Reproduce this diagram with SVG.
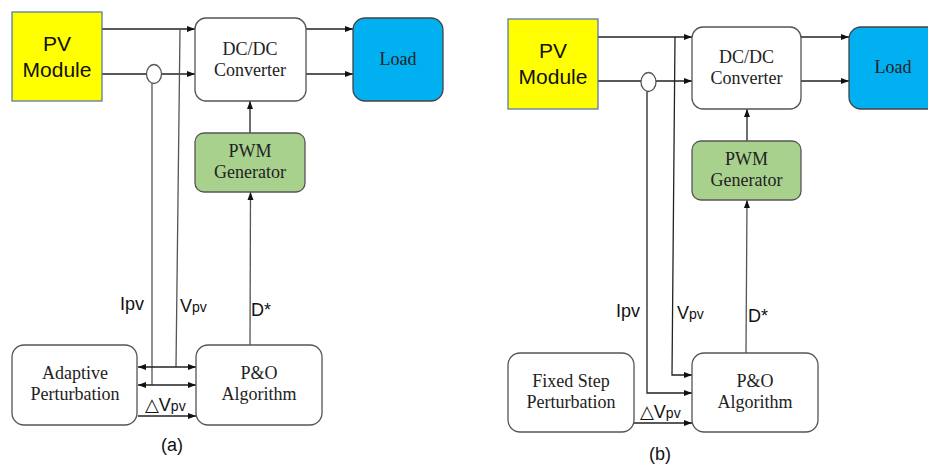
<svg xmlns="http://www.w3.org/2000/svg" width="928" height="465" viewBox="0 0 928 465">
<style>
.box{stroke:#555;stroke-width:1.3}
.w{fill:#fff}
.pv{fill:#ffff00;stroke:#4a6fb5;stroke-width:1.2}
.load{fill:#00b0f0;stroke:#444;stroke-width:1.3}
.pwm{fill:#a9d18e;stroke:#555;stroke-width:1.3}
.sf{font-family:"Liberation Serif","DejaVu Serif",serif;font-size:18px;fill:#222;text-anchor:middle}
.ss{font-family:"Liberation Sans","DejaVu Sans",sans-serif;fill:#111}
.pvt{font-size:21px;text-anchor:middle}
.lbl{font-size:18px}
.sub{font-size:14px}
.ln{fill:none;stroke:#222;stroke-width:1.3}
.lg{fill:none;stroke:#555;stroke-width:1.3}
</style>
<defs>
<marker id="ah" markerUnits="userSpaceOnUse" markerWidth="9" markerHeight="7" refX="8" refY="3" orient="auto-start-reverse">
<path d="M0,0 L8,3 L0,6 z" fill="#111"/>
</marker>
</defs>

<g id="connectors">
<!-- panel a -->
<path class="ln" d="M102,29 H195" marker-end="url(#ah)"/>
<path class="ln" d="M102,74 H195" marker-end="url(#ah)"/>
<path class="ln" d="M306,29 H353" marker-end="url(#ah)"/>
<path class="ln" d="M306,74 H353" marker-end="url(#ah)"/>
<path class="ln" d="M250,133 V101" marker-end="url(#ah)"/>
<path class="lg" d="M250,345 L250.5,192" marker-end="url(#ah)"/>
<path class="lg" d="M152,83 V385"/>
<path class="lg" d="M180,29 L176,367"/>
<path class="ln" d="M138,367 H196" marker-start="url(#ah)" marker-end="url(#ah)"/>
<path class="ln" d="M138,385 H196" marker-start="url(#ah)" marker-end="url(#ah)"/>
<path class="ln" d="M138,416 H196" marker-end="url(#ah)"/>
<ellipse cx="154" cy="74" rx="7.5" ry="9.5" fill="#fff" stroke="#555" stroke-width="1.3"/>
<!-- panel b -->
<path class="ln" d="M598,37 H692" marker-end="url(#ah)"/>
<path class="ln" d="M598,81 H692" marker-end="url(#ah)"/>
<path class="ln" d="M801,37 H849" marker-end="url(#ah)"/>
<path class="ln" d="M801,81 H849" marker-end="url(#ah)"/>
<path class="ln" d="M747,141 V109" marker-end="url(#ah)"/>
<path class="lg" d="M746,353 L747,200" marker-end="url(#ah)"/>
<path class="ln" d="M647,91 V393 H692" marker-end="url(#ah)"/>
<path class="ln" d="M675,37 L672,375 H692" marker-end="url(#ah)"/>
<path class="ln" d="M634,423 H692" marker-end="url(#ah)"/>
<ellipse cx="648.5" cy="82" rx="7.5" ry="9.5" fill="#fff" stroke="#555" stroke-width="1.3"/>
</g>

<!-- panel a nodes -->
<g id="pv-a">
<rect class="pv" x="12" y="12" width="90" height="89"/>
<text class="ss pvt" x="57" y="51">PV</text>
<text class="ss pvt" x="57" y="77">Module</text>
</g>
<g id="conv-a">
<rect class="box w" x="195" y="18" width="111" height="83" rx="11"/>
<text class="sf" x="250" y="55">DC/DC</text>
<text class="sf" x="250" y="76">Converter</text>
</g>
<g id="load-a">
<rect class="load" x="353" y="18" width="90" height="83" rx="12"/>
<text class="sf" x="398" y="65">Load</text>
</g>
<g id="pwm-a">
<rect class="pwm" x="195" y="133" width="110" height="59" rx="9"/>
<text class="sf" x="250" y="157">PWM</text>
<text class="sf" x="250" y="178">Generator</text>
</g>
<g id="adapt-a">
<rect class="box w" x="12" y="345" width="125" height="80" rx="12"/>
<text class="sf" x="75" y="379">Adaptive</text>
<text class="sf" x="75" y="400">Perturbation</text>
</g>
<g id="po-a">
<rect class="box w" x="196" y="345" width="126" height="80" rx="12"/>
<text class="sf" x="259" y="379">P&amp;O</text>
<text class="sf" x="259" y="400">Algorithm</text>
</g>
<g id="labels-a">
<text class="ss lbl" x="120" y="310">Ipv</text>
<text class="ss lbl" x="180" y="312">V<tspan class="sub">pv</tspan></text>
<text class="ss lbl" x="251" y="316">D*</text>
<text class="ss lbl" x="145" y="411">△V<tspan class="sub">pv</tspan></text>
<text class="ss lbl" x="172" y="451" text-anchor="middle">(a)</text>
</g>

<!-- panel b nodes -->
<g id="pv-b">
<rect class="pv" x="508" y="19" width="90" height="90"/>
<text class="ss pvt" x="553" y="58">PV</text>
<text class="ss pvt" x="553" y="84">Module</text>
</g>
<g id="conv-b">
<rect class="box w" x="692" y="27" width="109" height="82" rx="11"/>
<text class="sf" x="746.5" y="63">DC/DC</text>
<text class="sf" x="746.5" y="84">Converter</text>
</g>
<g id="load-b">
<rect class="load" x="849" y="27" width="92" height="82" rx="12"/>
<text class="sf" x="893" y="73">Load</text>
</g>
<g id="pwm-b">
<rect class="pwm" x="692" y="141" width="109" height="59" rx="9"/>
<text class="sf" x="746.5" y="165">PWM</text>
<text class="sf" x="746.5" y="186">Generator</text>
</g>
<g id="fixed-b">
<rect class="box w" x="508" y="353" width="126" height="79" rx="12"/>
<text class="sf" x="571" y="387">Fixed Step</text>
<text class="sf" x="571" y="408">Perturbation</text>
</g>
<g id="po-b">
<rect class="box w" x="692" y="353" width="126" height="79" rx="12"/>
<text class="sf" x="755" y="387">P&amp;O</text>
<text class="sf" x="755" y="408">Algorithm</text>
</g>
<g id="labels-b">
<text class="ss lbl" x="616" y="317">Ipv</text>
<text class="ss lbl" x="677" y="319">V<tspan class="sub">pv</tspan></text>
<text class="ss lbl" x="748" y="322">D*</text>
<text class="ss lbl" x="640" y="418">△V<tspan class="sub">pv</tspan></text>
<text class="ss lbl" x="660" y="460" text-anchor="middle">(b)</text>
</g>
</svg>
